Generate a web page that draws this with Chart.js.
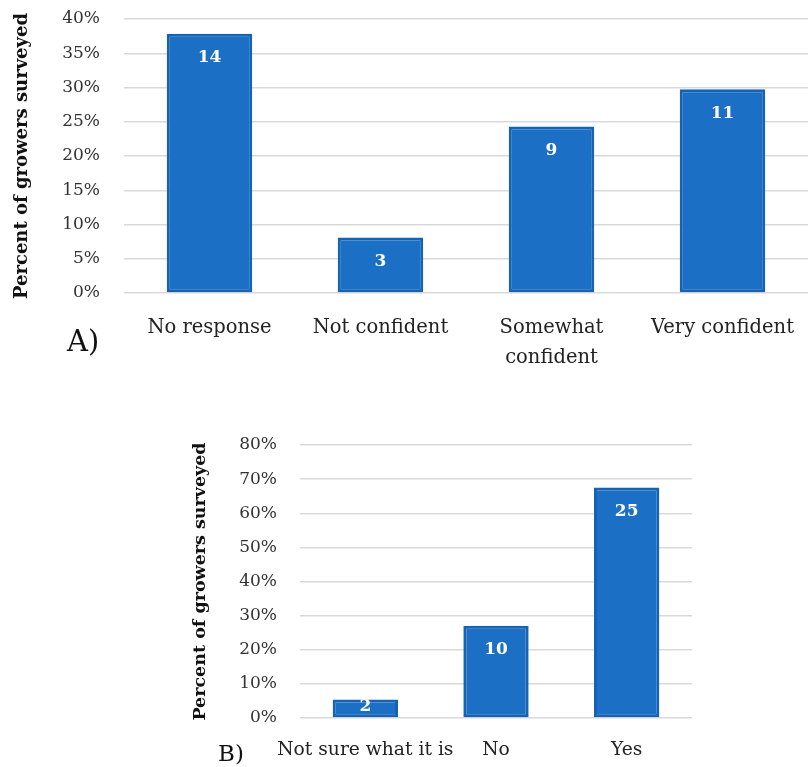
<!DOCTYPE html>
<html>
<head>
<meta charset="utf-8">
<script src="https://cdn.jsdelivr.net/npm/chart.js@4/dist/chart.umd.min.js"></script>
<style>
  html, body { margin: 0; padding: 0; background: #fff; }
  body { width: 808px; height: 767px; position: relative; overflow: hidden; }
  .panel { position: absolute; left: 0; width: 808px; }
  #panelA { top: 0; height: 380px; }
  #panelB { top: 420px; height: 347px; }
</style>
</head>
<body>
<div class="panel" id="panelA"><canvas id="chartA"></canvas></div>
<div class="panel" id="panelB"><canvas id="chartB"></canvas></div>
<script>
// Panel A: confidence among surveyed growers
const categoriesA = ['No response', 'Not confident', ['Somewhat', 'confident'], 'Very confident'];
const countsA = [14, 3, 9, 11];
const yTicksA = [0, 5, 10, 15, 20, 25, 30, 35, 40];

// Panel B: awareness among surveyed growers
const categoriesB = ['Not sure what it is', 'No', 'Yes'];
const countsB = [2, 10, 25];
const yTicksB = [0, 10, 20, 30, 40, 50, 60, 70, 80];

const axisTitle = 'Percent of growers surveyed';
const SERIF = '"DejaVu Serif", "Liberation Serif", serif';

// Bar heights are each group's share of respondents, in percent
function toPercent(counts) {
  const total = counts.reduce((a, b) => a + b, 0);
  return counts.map(c => c / total * 100);
}

// Writes the respondent count inside the top of each bar, and the panel tag
const countLabels = {
  id: 'countLabels',
  afterDatasetsDraw(chart, args, opts) {
    const ctx = chart.ctx;
    const meta = chart.getDatasetMeta(0);
    ctx.save();
    ctx.fillStyle = '#ffffff';
    ctx.font = 'bold 17px ' + SERIF;
    ctx.textAlign = 'center';
    ctx.textBaseline = 'middle';
    meta.data.forEach((bar, i) => {
      const y = Math.min(bar.y + 24, (bar.y + bar.base) / 2 - 2);
      ctx.fillText(String(opts.counts[i]), bar.x, y);
    });
    ctx.restore();
  },
  afterDraw(chart, args, opts) {
    const ctx = chart.ctx;
    ctx.save();
    ctx.fillStyle = '#111';
    ctx.font = opts.tagSize + 'px ' + SERIF;
    ctx.textAlign = 'left';
    ctx.textBaseline = 'middle';
    ctx.fillText(opts.tag, opts.tagX, opts.tagY);
    ctx.restore();
  }
};

function makeChart(id, cfg) {
  return new Chart(document.getElementById(id), {
    type: 'bar',
    data: {
      labels: cfg.labels,
      datasets: [{
        data: toPercent(cfg.counts),
        backgroundColor: '#1b70c6',
        borderColor: '#1663b4',
        borderWidth: 3,
        borderSkipped: false,
        categoryPercentage: 1,
        barPercentage: cfg.barPct
      }]
    },
    plugins: [countLabels],
    options: {
      responsive: true,
      maintainAspectRatio: false,
      animation: false,
      events: [],
      layout: { padding: { top: cfg.padTop, right: cfg.padRight, left: 0, bottom: 0 } },
      plugins: {
        legend: { display: false },
        tooltip: { enabled: false },
        countLabels: { counts: cfg.counts, tag: cfg.tag, tagX: cfg.tagX, tagY: cfg.tagY, tagSize: cfg.tagSize }
      },
      scales: {
        x: {
          grid: { display: false },
          border: { display: false },
          ticks: {
            color: '#222',
            font: { family: SERIF, size: cfg.xFont, lineHeight: cfg.xLine },
            padding: cfg.xPad,
            maxRotation: 0,
            autoSkip: false
          },
          afterFit(scale) { scale.height = cfg.xHeight; }
        },
        y: {
          min: cfg.ticks[0],
          max: cfg.ticks[cfg.ticks.length - 1],
          afterBuildTicks(scale) { scale.ticks = cfg.ticks.map(v => ({ value: v })); },
          // invisible tick marks keep the labels clear of the plot area
          grid: { color: '#d9d9d9', lineWidth: 1.5, drawTicks: true, tickLength: cfg.yGap, tickColor: 'rgba(0,0,0,0)' },
          border: { display: false },
          ticks: {
            color: '#333',
            font: { family: SERIF, size: 17 },
            padding: 0,
            callback: v => v + '%'
          },
          title: {
            display: true,
            text: axisTitle,
            color: '#111',
            font: { family: SERIF, size: cfg.titleFont, weight: 'bold' },
            padding: { top: cfg.titlePad, bottom: 0 }
          },
          afterFit(scale) { scale.width = cfg.yWidth; }
        }
      }
    }
  });
}

makeChart('chartA', {
  labels: categoriesA, counts: countsA, ticks: yTicksA,
  barPct: 0.5, padTop: 19, padRight: 0,
  xHeight: 87, xPad: 12, xLine: 1.54, xFont: 19.5,
  yWidth: 124, yGap: 24, titlePad: 12, titleFont: 18,
  tag: 'A)', tagX: 67, tagY: 343, tagSize: 29
});

makeChart('chartB', {
  labels: categoriesB, counts: countsB, ticks: yTicksB,
  barPct: 0.5, padTop: 25, padRight: 116,
  xHeight: 49, xPad: 13, xLine: 1.2, xFont: 18.7,
  yWidth: 300, yGap: 23, titlePad: 190, titleFont: 17.5,
  tag: 'B)', tagX: 218, tagY: 335, tagSize: 23
});
</script>
</body>
</html>
